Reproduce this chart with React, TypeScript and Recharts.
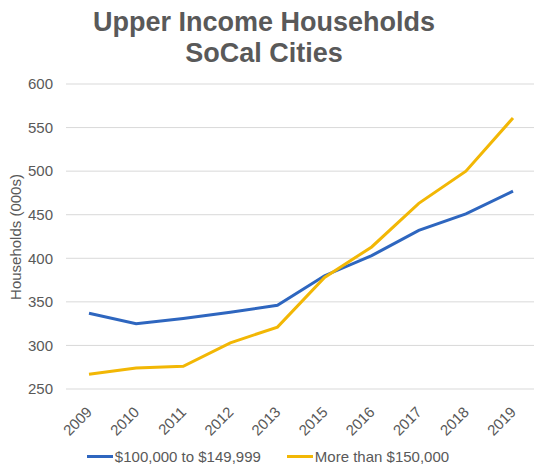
import { LineChart, Line, XAxis, YAxis, CartesianGrid, Legend, Label } from "recharts";

const years = ["2009", "2010", "2011", "2012", "2013", "2015", "2016", "2017", "2018", "2019"];
const mid = [337, 325, 331, 338, 346, 380, 403, 432, 451, 477];
const high = [267, 274, 276, 303, 321, 378, 413, 463, 500, 561];
const yTicks = [250, 300, 350, 400, 450, 500, 550, 600];

const seriesNames = ["$100,000 to $149,999", "More than $150,000"];
const colors = ["#2e66bf", "#f2b705"];

const data = years.map((y, i) => ({ year: y, mid: mid[i], high: high[i] }));

const FONT = "Arial, 'Liberation Sans', sans-serif";
const GREY = "#595959";

function YearTick(props: any) {
  const { x, y, payload } = props;
  return (
    <text
      x={x + 4}
      y={y + 16}
      transform={`rotate(-45 ${x + 4} ${y + 16})`}
      textAnchor="end"
      fill={GREY}
      fontSize={15}
      fontFamily={FONT}
    >
      {payload.value}
    </text>
  );
}

function LegendBox() {
  return (
    <div style={{ display: "flex", justifyContent: "center", alignItems: "center", height: 22, fontFamily: FONT, fontSize: 15, color: GREY }}>
      {seriesNames.map((n, i) => (
        <div key={n} style={{ display: "flex", alignItems: "center", marginRight: i === 0 ? 26 : 0 }}>
          <span style={{ display: "inline-block", width: 26, height: 3, background: colors[i], marginRight: 2 }} />
          <span>{n}</span>
        </div>
      ))}
    </div>
  );
}

export default function App() {
  return (
    <div style={{ position: "fixed", top: 0, left: 0, width: 534, height: 467, background: "#fff", overflow: "hidden" }}>
      <div
        style={{
          position: "absolute",
          top: 7,
          left: 0,
          width: 528,
          textAlign: "center",
          fontFamily: FONT,
          fontWeight: "bold",
          fontSize: 27,
          lineHeight: "31px",
          color: GREY,
        }}
      >
        Upper Income Households
        <br />
        SoCal Cities
      </div>
      <LineChart width={534} height={467} data={data} margin={{ top: 84, right: -2, bottom: 0, left: 0 }}>
        <CartesianGrid vertical={false} stroke="#d9d9d9" />
        <XAxis
          dataKey="year"
          interval={0}
          axisLine={false}
          tickLine={false}
          height={56}
          padding={{ left: 23, right: 23 }}
          tick={<YearTick />}
        />
        <YAxis
          domain={[250, 600]}
          ticks={yTicks}
          width={66}
          axisLine={false}
          tickLine={false}
          tickMargin={7}
          tick={{ fill: GREY, fontSize: 15, fontFamily: FONT }}
        >
          <Label
            content={() => (
              <text
                x={15}
                y={237}
                transform="rotate(-90 15 237)"
                textAnchor="middle"
                dominantBaseline="central"
                fill={GREY}
                fontSize={15}
                fontFamily={FONT}
              >
                Households (000s)
              </text>
            )}
          />
        </YAxis>
        <Legend verticalAlign="bottom" content={<LegendBox />} />
        <Line dataKey="mid" name={seriesNames[0]} stroke={colors[0]} strokeWidth={3} dot={false} isAnimationActive={false} />
        <Line dataKey="high" name={seriesNames[1]} stroke={colors[1]} strokeWidth={3} dot={false} isAnimationActive={false} />
      </LineChart>
    </div>
  );
}
